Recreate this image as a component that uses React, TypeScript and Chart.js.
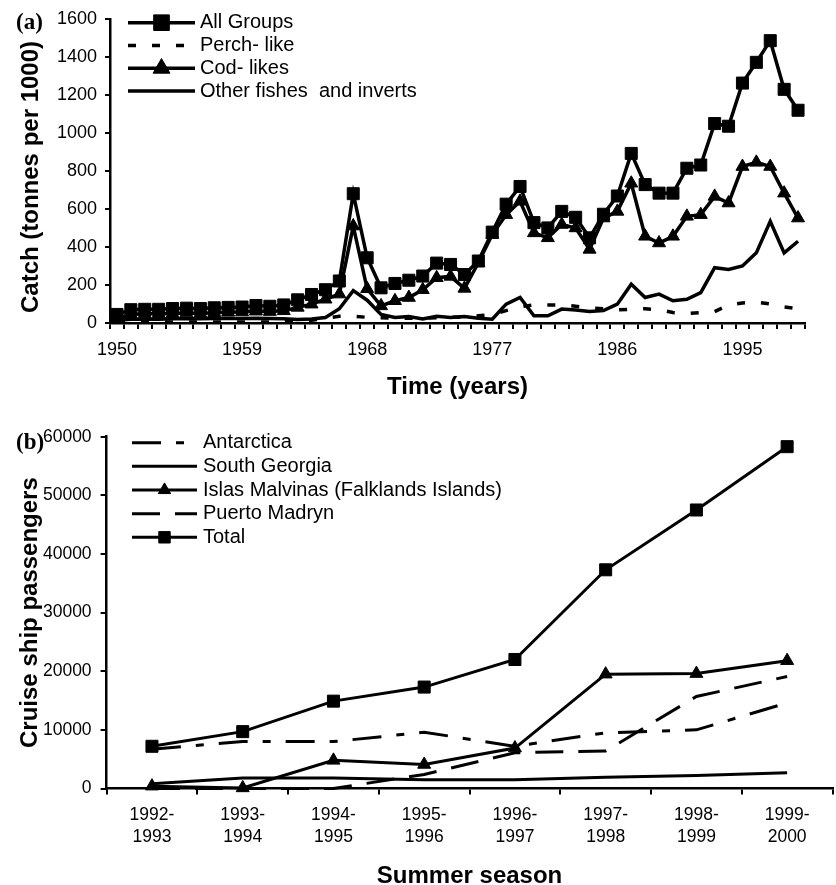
import React, { useEffect, useRef } from 'react';
import { Chart, registerables } from 'chart.js';
import { drawPoint } from 'chart.js/helpers';

Chart.register(...registerables);

const FONT = "'Liberation Sans', Arial, sans-serif";

// ---------- Panel (a): catch ----------
const YEARS = [
  1950, 1951, 1952, 1953, 1954, 1955, 1956, 1957, 1958, 1959,
  1960, 1961, 1962, 1963, 1964, 1965, 1966, 1967, 1968, 1969,
  1970, 1971, 1972, 1973, 1974, 1975, 1976, 1977, 1978, 1979,
  1980, 1981, 1982, 1983, 1984, 1985, 1986, 1987, 1988, 1989,
  1990, 1991, 1992, 1993, 1994, 1995, 1996, 1997, 1998, 1999,
];
const YEAR_TICK_LABELS = ['1950', '1959', '1968', '1977', '1986', '1995'];

const ALL_GROUPS = [
  45, 70, 72, 72, 76, 78, 76, 80, 82, 84,
  92, 88, 95, 122, 150, 175, 221, 680, 343, 185,
  208, 225, 247, 315, 308, 255, 326, 478, 625, 718,
  528, 500, 587, 556, 448, 572, 668, 892, 728, 683,
  683, 814, 831, 1049, 1035, 1262, 1371, 1485, 1229, 1119,
];
const PERCH_LIKE = [
  5, 5, 5, 5, 5, 5, 5, 5, 5, 5,
  5, 5, 8, 10, 15, 25, 35, 35, 30, 28,
  25, 25, 25, 28, 30, 32, 38, 45, 65, 85,
  95, 95, 95, 88, 80, 75, 70, 72, 75, 70,
  55, 50, 55, 60, 95, 105, 110, 100, 85, 75,
];
const COD_LIKES = [
  25, 45, 48, 48, 50, 52, 50, 54, 56, 58,
  62, 60, 64, 82, 99, 125, 152, 510, 180, 90,
  117, 134, 175, 238, 245, 182, 317, 465, 570, 640,
  474, 448, 518, 500, 387, 552, 587, 735, 456, 421,
  456, 561, 570, 666, 631, 823, 845, 823, 683, 552,
];
const OTHER_FISHES = [
  15, 20, 20, 20, 22, 22, 22, 24, 24, 24,
  25, 24, 22, 18, 21, 29, 75, 170, 120, 45,
  29, 34, 21, 35, 29, 34, 25, 20, 99, 134,
  38, 38, 73, 68, 61, 65, 99, 204, 134, 152,
  117, 125, 160, 291, 282, 300, 369, 535, 369, 430,
];
const CATCH_TICKS = [0, 200, 400, 600, 800, 1000, 1200, 1400, 1600];

// ---------- Panel (b): cruise passengers ----------
const SEASONS = [
  ['1992-', '1993'], ['1993-', '1994'], ['1994-', '1995'], ['1995-', '1996'],
  ['1996-', '1997'], ['1997-', '1998'], ['1998-', '1999'], ['1999-', '2000'],
];
const ANTARCTICA = [6700, 8000, 8000, 9600, 7200, 9500, 10000, 14600];
const SOUTH_GEORGIA = [800, 1800, 1800, 1500, 1500, 1900, 2200, 2700];
const MALVINAS = [400, 100, 4800, 4100, 6900, 19500, 19600, 21800];
const PUERTO_MADRYN = [0, 0, 0, 2400, 6100, 6400, 15700, 19100];
const TOTAL = [7200, 9700, 14900, 17300, 22000, 37300, 47500, 58300];
const PASSENGER_TICKS = [0, 10000, 20000, 30000, 40000, 50000, 60000];

type LegendCfg = { x1: number; x2: number; tx: number; y0: number; dy: number; font: string; markerScale: number };

function makeLegendPlugin(cfg: LegendCfg) {
  return {
    id: 'sketchLegend',
    afterDraw(chart: any) {
      const ctx = chart.ctx as CanvasRenderingContext2D;
      ctx.save();
      chart.data.datasets.forEach((ds: any, i: number) => {
        const y = cfg.y0 + i * cfg.dy;
        ctx.strokeStyle = '#000';
        ctx.fillStyle = '#000';
        ctx.lineWidth = ds.borderWidth;
        ctx.lineCap = 'butt';
        ctx.setLineDash(ds.borderDash || []);
        ctx.beginPath();
        ctx.moveTo(cfg.x1, y);
        ctx.lineTo(cfg.x2, y);
        ctx.stroke();
        ctx.setLineDash([]);
        if (ds.pointRadius > 0) {
          ctx.lineWidth = 1;
          drawPoint(
            ctx,
            { pointStyle: ds.pointStyle, radius: ds.pointRadius * cfg.markerScale, borderWidth: 1, rotation: 0 } as any,
            (cfg.x1 + cfg.x2) / 2,
            y
          );
        }
        ctx.font = cfg.font;
        ctx.textBaseline = 'middle';
        ctx.textAlign = 'left';
        ctx.fillText(ds.label, cfg.tx, y);
      });
      ctx.restore();
    },
  };
}

// Rotated y-axis title drawn at a chosen centre
function makeYTitlePlugin(text: string, x: number, y: number) {
  return {
    id: 'sketchYTitle',
    afterDraw(chart: any) {
      const ctx = chart.ctx as CanvasRenderingContext2D;
      ctx.save();
      ctx.translate(x, y);
      ctx.rotate(-Math.PI / 2);
      ctx.font = `bold 24px ${FONT}`;
      ctx.fillStyle = '#000';
      ctx.textAlign = 'center';
      ctx.textBaseline = 'middle';
      ctx.fillText(text, 0, 0);
      ctx.restore();
    },
  };
}

function line(label: string, data: number[], opts: any) {
  return {
    label,
    data,
    borderColor: '#000',
    backgroundColor: '#000',
    pointBackgroundColor: '#000',
    pointBorderColor: '#000',
    pointBorderWidth: 1,
    tension: 0,
    clip: false,
    pointRadius: 0,
    ...opts,
  };
}

const tickFont = (size: number, lh = 1.2) => ({ family: FONT, size, lineHeight: lh });
const titleFont = { family: FONT, size: 24, weight: 'bold' as const, lineHeight: 1.2 };

export default function App() {
  const refA = useRef<HTMLCanvasElement>(null);
  const refB = useRef<HTMLCanvasElement>(null);

  useEffect(() => {
    const chartA = new Chart(refA.current!, {
      type: 'line',
      data: {
        labels: YEARS.map(String),
        datasets: [
          line('All Groups', ALL_GROUPS, { borderWidth: 3.5, pointStyle: 'rect', pointRadius: 8.5 }),
          line('Perch- like', PERCH_LIKE, { borderWidth: 3.5, borderDash: [8, 16] }),
          line('Cod- likes', COD_LIKES, { borderWidth: 3.5, pointStyle: 'triangle', pointRadius: 7.5 }),
          line('Other fishes  and inverts', OTHER_FISHES, { borderWidth: 3.5 }),
        ],
      },
      options: {
        responsive: false,
        animation: false,
        events: [],
        devicePixelRatio: 1,
        layout: { padding: { left: 0, top: 16, right: 31, bottom: 0 } },
        plugins: { legend: { display: false }, tooltip: { enabled: false } },
        scales: {
          x: {
            type: 'category',
            offset: true,
            afterFit: (s: any) => { s.height = 410 - 323; },
            grid: { display: true, drawOnChartArea: false, drawTicks: true, tickLength: 6, offset: true, color: '#000', lineWidth: 2 },
            border: { display: true, color: '#000', width: 2.5 },
            ticks: {
              autoSkip: false, maxRotation: 0, minRotation: 0, padding: 10, color: '#000', font: tickFont(18),
              callback: (_v: any, i: number) => (YEAR_TICK_LABELS.includes(String(YEARS[i])) ? String(YEARS[i]) : ''),
            },
            title: { display: true, text: 'Time (years)', color: '#000', font: titleFont, padding: { top: 0, bottom: 8.6 } },
          },
          y: {
            type: 'linear',
            min: 0,
            max: 1600,
            afterFit: (s: any) => { s.width = 110; },
            afterBuildTicks: (s: any) => { s.ticks = CATCH_TICKS.map((v) => ({ value: v })); },
            grid: { display: true, drawOnChartArea: false, drawTicks: true, tickLength: 5, color: '#000', lineWidth: 2 },
            border: { display: true, color: '#000', width: 2.5 },
            ticks: { padding: 8, color: '#000', font: tickFont(18), callback: (v: any) => String(v) },
            title: { display: false },
          },
        },
      } as any,
      plugins: [
        makeLegendPlugin({ x1: 128, x2: 195, tx: 200, y0: 22.7, dy: 22.8, font: `20px ${FONT}`, markerScale: 1.3 }),
        makeYTitlePlugin('Catch (tonnes per 1000)', 31, 177),
      ],
    });

    const chartB = new Chart(refB.current!, {
      type: 'line',
      data: {
        labels: SEASONS as any,
        datasets: [
          line('Antarctica', ANTARCTICA, { borderWidth: 3, borderDash: [29, 15, 8, 15] }),
          line('South Georgia', SOUTH_GEORGIA, { borderWidth: 3 }),
          line('Islas Malvinas (Falklands Islands)', MALVINAS, { borderWidth: 3, pointStyle: 'triangle', pointRadius: 7.5 }),
          line('Puerto Madryn', PUERTO_MADRYN, { borderWidth: 3, borderDash: [28, 15] }),
          line('Total', TOTAL, { borderWidth: 3, pointStyle: 'rect', pointRadius: 8.5 }),
        ],
      },
      options: {
        responsive: false,
        animation: false,
        events: [],
        devicePixelRatio: 1,
        layout: { padding: { left: 0, top: 26.7, right: 3.4, bottom: 0 } },
        plugins: { legend: { display: false }, tooltip: { enabled: false } },
        scales: {
          x: {
            type: 'category',
            offset: true,
            afterFit: (s: any) => { s.height = 485 - 378.5; },
            grid: { display: true, drawOnChartArea: false, drawTicks: true, tickLength: 6, offset: true, color: '#000', lineWidth: 2 },
            border: { display: true, color: '#000', width: 2.5 },
            ticks: { autoSkip: false, maxRotation: 0, minRotation: 0, padding: 9.5, color: '#000', font: tickFont(17.5, 1.26) },
            title: { display: true, text: 'Summer season', color: '#000', font: titleFont, padding: { top: 0, bottom: 4.6 } },
          },
          y: {
            type: 'linear',
            min: 0,
            max: 60000,
            afterFit: (s: any) => { s.width = 106.6; },
            afterBuildTicks: (s: any) => { s.ticks = PASSENGER_TICKS.map((v) => ({ value: v })); },
            grid: { display: true, drawOnChartArea: false, drawTicks: true, tickLength: 6, color: '#000', lineWidth: 2 },
            border: { display: true, color: '#000', width: 2.5 },
            ticks: { padding: 9, color: '#000', font: tickFont(17.5), callback: (v: any) => String(v) },
            title: { display: true, text: 'Cruise ship passengers', color: '#000', font: titleFont, padding: { top: 15.6, bottom: 0 } },
          },
        },
      } as any,
      plugins: [makeLegendPlugin({ x1: 132, x2: 197, tx: 203, y0: 32.7, dy: 23.65, font: `20px ${FONT}`, markerScale: 0.95 })],
    });

    return () => {
      chartA.destroy();
      chartB.destroy();
    };
  }, []);

  const panelLabel: React.CSSProperties = {
    position: 'absolute',
    left: 16,
    fontFamily: "'Liberation Serif', 'Times New Roman', serif",
    fontWeight: 'bold',
    fontSize: 23,
    lineHeight: '23px',
    color: '#000',
  };

  return (
    <div style={{ position: 'absolute', left: 0, top: 0, width: 836, height: 885, overflow: 'hidden', background: '#fff' }}>
      <canvas ref={refA} width={836} height={410} style={{ position: 'absolute', left: 0, top: 0, width: 836, height: 410 }} />
      <canvas ref={refB} width={842} height={485} style={{ position: 'absolute', left: 0, top: 410, width: 842, height: 485 }} />
      <div style={{ ...panelLabel, top: 10 }}>(a)</div>
      <div style={{ ...panelLabel, top: 430 }}>(b)</div>
    </div>
  );
}
